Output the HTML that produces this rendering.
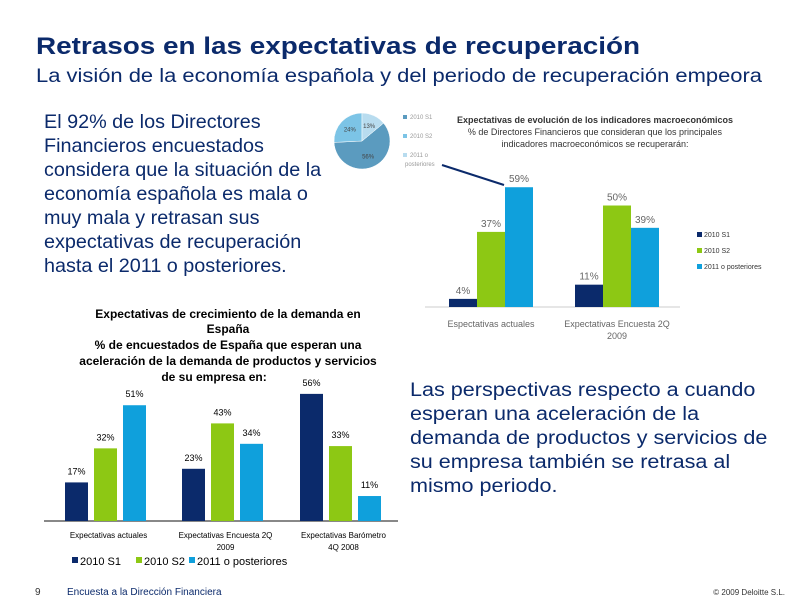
<!DOCTYPE html>
<html><head><meta charset="utf-8"><style>
html,body{margin:0;padding:0;background:#fff}
svg{display:block;font-family:"Liberation Sans",sans-serif}
</style></head><body>
<svg id="s" width="792" height="612" viewBox="0 0 792 612">
<text x="36" y="54" font-size="24" font-weight="bold" fill="#0b2a6b" textLength="604" lengthAdjust="spacingAndGlyphs">Retrasos en las expectativas de recuperación</text>
<text x="36" y="82" font-size="19" fill="#0b2a6b" textLength="726" lengthAdjust="spacingAndGlyphs">La visión de la economía española y del periodo de recuperación empeora</text>
<g font-size="19.8" fill="#0b2a6b">
<text x="44" y="128">El 92% de los Directores</text>
<text x="44" y="152">Financieros encuestados</text>
<text x="44" y="176">considera que la situación de la</text>
<text x="44" y="200">economía española es mala o</text>
<text x="44" y="224">muy mala y retrasan sus</text>
<text x="44" y="248">expectativas de recuperación</text>
<text x="44" y="272">hasta el 2011 o posteriores.</text>
</g>
<g font-size="19.8" fill="#0b2a6b" transform="translate(410,0) scale(1.09,1) translate(-410,0)">
<text x="410" y="396">Las perspectivas respecto a cuando</text>
<text x="410" y="420">esperan una aceleración de la</text>
<text x="410" y="444">demanda de productos y servicios de</text>
<text x="410" y="468">su empresa también se retrasa al</text>
<text x="410" y="492">mismo periodo.</text>
</g>
<g id="pie"></g>
<g font-size="6" fill="#999">
<rect x="403" y="115" width="4" height="4" fill="#5b9bbf"/><text x="410" y="119">2010 S1</text>
<rect x="403" y="134" width="4" height="4" fill="#7cc4e6"/><text x="410" y="138">2010 S2</text>
<rect x="403" y="153" width="4" height="4" fill="#b8dcef"/><text x="410" y="157">2011 o</text><text x="405" y="166">posteriores</text>
</g>
<line x1="442" y1="165" x2="504" y2="185" stroke="#0b2a6b" stroke-width="2"/>
<g font-size="9" fill="#333" text-anchor="middle">
<text x="595" y="123" font-weight="bold">Expectativas de evolución de los indicadores macroeconómicos</text>
<text x="595" y="135">% de Directores Financieros que consideran que los principales</text>
<text x="595" y="147">indicadores macroeconómicos se recuperarán:</text>
</g>
<g id="c1"></g>
<g font-size="12" fill="#000" text-anchor="middle" font-weight="bold">
<text x="228" y="318">Expectativas de crecimiento de la demanda en</text>
<text x="228" y="333">España</text>
<text x="228" y="349">% de encuestados de España que esperan una</text>
<text x="228" y="365">aceleración de la demanda de productos y servicios</text>
<text x="214" y="381">de su empresa en:</text>
</g>
<g id="c2"></g>
<text x="35" y="595" font-size="10" fill="#333">9</text>
<text x="67" y="595" font-size="10" fill="#0b2a6b">Encuesta a la Dirección Financiera</text>
<text x="785" y="595" font-size="8" fill="#333" text-anchor="end">© 2009 Deloitte S.L.</text>
</svg>
<script>
const pieLabels=["2010 S1","2010 S2","2011 o posteriores"];
const pieValues=[56,24,13];
const c1Categories=[["Espectativas actuales"],["Expectativas Encuesta 2Q","2009"]];
const c1S1=[4,11];
const c1S2=[37,50];
const c1Post=[59,39];
const c1SeriesNames=["2010 S1","2010 S2","2011 o posteriores"];
const c2Categories=[["Expectativas actuales"],["Expectativas Encuesta 2Q","2009"],["Expectativas Barómetro","4Q 2008"]];
const c2S1=[17,23,56];
const c2S2=[32,43,33];
const c2Post=[51,34,11];
const c2SeriesNames=["2010 S1","2010 S2","2011 o posteriores"];
const COLORS=["#0b2a6b","#8dc814","#0fa0dc"];
const NS="http://www.w3.org/2000/svg";
function mk(p,t,a){const e=document.createElementNS(NS,t);for(const k in a)e.setAttribute(k,a[k]);p.appendChild(e);return e;}
(function(){const g=document.getElementById('pie');const cx=362,cy=141,r=28;const tot=pieValues.reduce((a,b)=>a+b,0);
const cols=["#5b9bbf","#7cc4e6","#b8dcef"];let a0=-Math.PI/2+2*Math.PI*(pieValues[2]/tot);
[0,1,2].forEach(i=>{const a1=a0+2*Math.PI*pieValues[i]/tot;
const p=mk(g,'path',{d:`M${cx},${cy}L${cx+r*Math.cos(a0)},${cy+r*Math.sin(a0)}A${r},${r} 0 ${a1-a0>Math.PI?1:0} 1 ${cx+r*Math.cos(a1)},${cy+r*Math.sin(a1)}Z`,fill:cols[i],stroke:'#fff','stroke-width':0.5});


const am=(a0+a1)/2;const t=mk(g,'text',{x:cx+r*0.6*Math.cos(am),y:cy+r*0.6*Math.sin(am)+2,'font-size':6,fill:'#444','text-anchor':'middle'});t.textContent=pieValues[i]+'%';


a0=a1;});})();
function bars(gid,cats,series,opt){
const g=document.getElementById(gid);
const y=v=>opt.base-v*opt.k;
mk(g,'line',{x1:opt.x0,x2:opt.x1,y1:opt.base,y2:opt.base,stroke:opt.axis,'stroke-width':opt.aw});
cats.forEach((c,ci)=>{
 series.forEach((s,si)=>{
  const x=opt.gx[ci]+si*opt.bw;
  const r=mk(g,'rect',{x:x,y:y(s[ci]),width:opt.bw-opt.gap,height:s[ci]*opt.k,fill:COLORS[si]});
  
  
  const t=mk(g,'text',{x:x+(opt.bw-opt.gap)/2,y:y(s[ci])-opt.lo,'font-size':opt.fs,fill:opt.lc,'text-anchor':'middle'});
  t.textContent=s[ci]+'%';
  
  
 });
 c.forEach((line,li)=>{const t=mk(g,'text',{x:opt.gx[ci]+opt.bw*1.5,y:opt.cy+li*opt.clh,'font-size':opt.cfs,fill:opt.lc,'text-anchor':'middle'});t.textContent=line;
 
 });
});}
bars('c1',c1Categories,[c1S1,c1S2,c1Post],{base:307,k:2.03,x0:425,x1:680,gx:[449,575],bw:28,gap:0,lo:5,fs:10,lc:'#666',axis:'#ccc',aw:1,cy:327,clh:12,cfs:9});
bars('c2',c2Categories,[c2S1,c2S2,c2Post],{base:521,k:2.27,x0:44,x1:398,gx:[65,182,300],bw:29,gap:6,lo:8,fs:9,lc:'#000',axis:'#888',aw:2,cy:538,clh:12,cfs:8});
(function(){const g=document.getElementById('c1');c1SeriesNames.forEach((n,i)=>{const yy=237+i*16;
mk(g,'rect',{x:697,y:yy-5,width:5,height:5,fill:COLORS[i]});const t=mk(g,'text',{x:704,y:yy,'font-size':7,fill:'#333'});t.textContent=n;

});
const g2=document.getElementById('c2');const xs=[72,136,189];c2SeriesNames.forEach((n,i)=>{
mk(g2,'rect',{x:xs[i],y:557,width:6,height:6,fill:COLORS[i]});const t=mk(g2,'text',{x:xs[i]+8,y:565,'font-size':11,fill:'#000'});t.textContent=n;

});})();
</script>
</body></html>
